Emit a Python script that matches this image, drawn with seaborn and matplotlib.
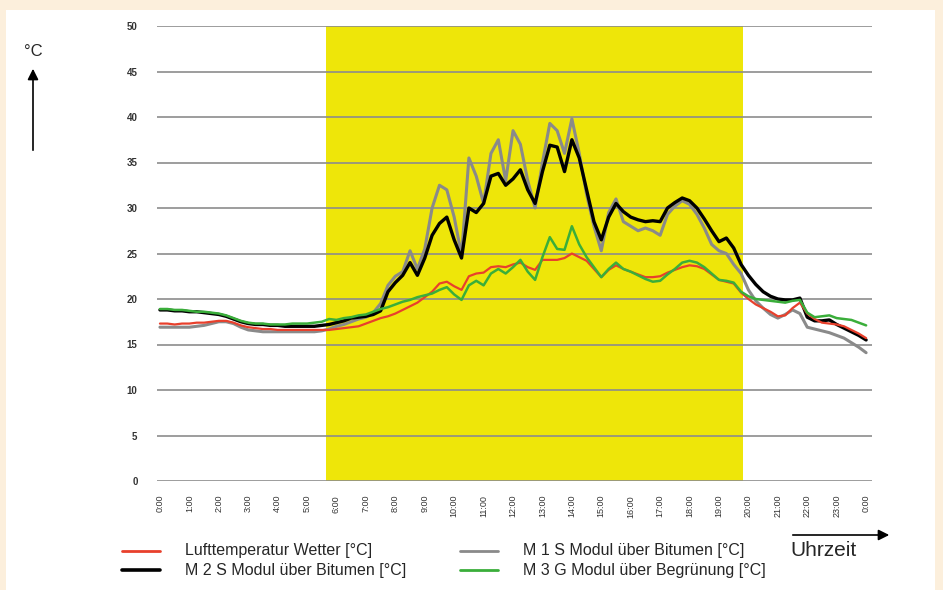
import numpy as np
import pandas as pd
import seaborn as sns
import matplotlib.pyplot as plt
from matplotlib.patches import Rectangle, FancyArrowPatch

# time of day in hours, quarter-hour steps
hours = np.arange(0, 24.01, 0.25)

luft = [17.3, 17.3, 17.2, 17.3, 17.3, 17.4, 17.4, 17.5, 17.6, 17.6, 17.4, 17.1,
        16.9, 16.8, 16.7, 16.7, 16.6, 16.6, 16.6, 16.6, 16.6, 16.6, 16.6, 16.6,
        16.7, 16.8, 16.9, 17.0, 17.3, 17.6, 17.9, 18.1, 18.4, 18.8, 19.2, 19.6,
        20.2, 20.8, 21.7, 21.9, 21.4, 21.0, 22.5, 22.8, 22.9, 23.5, 23.6, 23.5,
        23.8, 24.0, 23.5, 23.2, 24.3, 24.3, 24.3, 24.5, 25.0, 24.6, 24.2, 23.3,
        22.4, 23.2, 23.7, 23.3, 23.0, 22.7, 22.4, 22.4, 22.5, 22.9, 23.2, 23.5,
        23.7, 23.6, 23.3, 22.7, 22.1, 21.9, 21.7, 20.7, 20.0, 19.4, 19.0, 18.6,
        18.1, 18.2, 19.0, 19.6, 18.4, 17.8, 17.4, 17.3, 17.2, 17.0, 16.6, 16.2,
        15.7]

m1_bitumen = [16.9, 16.9, 16.9, 16.9, 16.9, 17.0, 17.1, 17.3, 17.5, 17.5, 17.3, 16.9,
              16.6, 16.5, 16.4, 16.4, 16.4, 16.4, 16.4, 16.4, 16.4, 16.4, 16.5, 16.7,
              17.0, 17.2, 17.5, 17.8, 18.0, 18.5, 19.5, 21.5, 22.5, 23.0, 25.3, 23.3,
              25.5, 30.0, 32.5, 32.0, 29.0, 24.8, 35.5, 33.5, 30.5, 36.0, 37.5, 33.0,
              38.5, 37.0, 33.0, 30.0, 35.0, 39.3, 38.5, 36.0, 39.8, 36.0, 31.5, 28.0,
              25.3, 29.5, 31.0, 28.5, 28.0, 27.5, 27.8, 27.5, 27.0, 29.3, 30.2, 30.8,
              30.4, 29.3, 27.8, 26.0, 25.3, 25.0, 23.8, 22.8, 21.0, 19.8, 19.0, 18.3,
              17.9, 18.3, 18.8, 18.4, 16.9, 16.7, 16.5, 16.3, 16.0, 15.7, 15.2, 14.7,
              14.1]

m2_bitumen = [18.8, 18.8, 18.7, 18.7, 18.6, 18.6, 18.5, 18.4, 18.3, 18.1, 17.8, 17.5,
              17.3, 17.2, 17.2, 17.1, 17.1, 17.0, 17.0, 17.0, 17.0, 17.0, 17.1, 17.2,
              17.4, 17.6, 17.9, 18.0, 18.1, 18.3, 18.7, 20.8, 21.8, 22.6, 24.0, 22.6,
              24.5, 27.0, 28.3, 29.0, 26.5, 24.5, 30.0, 29.5, 30.5, 33.5, 33.8, 32.5,
              33.2, 34.2, 32.0, 30.5, 34.0, 36.9, 36.7, 34.0, 37.5, 35.5, 32.0, 28.5,
              26.5, 29.0, 30.5, 29.6, 29.0, 28.7, 28.5, 28.6, 28.5, 30.0, 30.6, 31.1,
              30.8, 30.0, 28.8, 27.5, 26.3, 26.7, 25.6, 23.8, 22.6, 21.6, 20.8, 20.3,
              20.0, 19.9, 19.9, 20.1, 18.0, 17.6, 17.6, 17.7, 17.2, 16.8, 16.4, 16.0,
              15.5]

m3_begruenung = [18.9, 18.9, 18.8, 18.8, 18.7, 18.6, 18.6, 18.5, 18.4, 18.2, 17.9, 17.6,
                 17.4, 17.3, 17.3, 17.2, 17.2, 17.2, 17.3, 17.3, 17.3, 17.4, 17.5, 17.8,
                 17.7, 17.9, 18.0, 18.2, 18.3, 18.6, 18.9, 19.1, 19.4, 19.7, 19.9, 20.2,
                 20.4, 20.6, 21.0, 21.3, 20.5, 19.9, 21.5, 22.0, 21.5, 22.8, 23.3, 22.8,
                 23.5, 24.3, 23.0, 22.1, 24.6, 26.8, 25.5, 25.4, 28.0, 26.0, 24.6, 23.5,
                 22.4, 23.3, 24.0, 23.3, 23.0, 22.6, 22.2, 21.9, 22.0, 22.7, 23.3, 24.0,
                 24.2, 24.0, 23.5, 22.8, 22.1, 22.0, 21.8, 20.8, 20.3, 20.0, 19.9, 19.8,
                 19.7, 19.6, 19.8, 19.9, 18.5, 18.0, 18.1, 18.2, 17.9, 17.8, 17.7, 17.4,
                 17.1]

series_names = ['Lufttemperatur Wetter [°C]', 'M 1 S Modul über Bitumen [°C]',
                'M 2 S Modul über Bitumen [°C]', 'M 3 G Modul über Begrünung [°C]']
series_colors = ['#e8402c', '#8a8a8a', '#000000', '#3aae3a']
yticks = [0, 5, 10, 15, 20, 25, 30, 35, 40, 45, 50]
xtick_labels = ['%d:00' % (h % 24) for h in range(25)]
daylight = (5.65, 19.8)

df = pd.DataFrame({'Uhrzeit': hours,
                   series_names[0]: luft,
                   series_names[1]: m1_bitumen,
                   series_names[2]: m2_bitumen,
                   series_names[3]: m3_begruenung})
long_df = df.melt(id_vars='Uhrzeit', var_name='Reihe', value_name='Temperatur')

sns.set_style('white')
plt.rcParams['font.family'] = ['Liberation Sans', 'DejaVu Sans']

fig = plt.figure(figsize=(9.43, 5.90), dpi=100)
fig.patch.set_facecolor('#fcefdc')
fig.add_artist(Rectangle((6 / 943, 0.0), 929 / 943, 1 - 10 / 590,
                         transform=fig.transFigure, facecolor='white',
                         edgecolor='none', zorder=-10))

ax = fig.add_axes([157 / 943, 1 - 481 / 590, 715 / 943, 455 / 590])
ax.set_zorder(1)
ax.set_facecolor('none')
ax.axvspan(*daylight, color='#eee609', zorder=0, lw=0)
for y in yticks:
    ax.axhline(y, color='#8c8c8c', lw=1.2, zorder=1)

palette = dict(zip(series_names, series_colors))
widths = {series_names[0]: 1.6, series_names[1]: 2.2,
          series_names[2]: 2.4, series_names[3]: 1.8}
for name in [series_names[1], series_names[2], series_names[0], series_names[3]]:
    sns.lineplot(data=long_df[long_df['Reihe'] == name], x='Uhrzeit', y='Temperatur',
                 color=palette[name], lw=widths[name], ax=ax, legend=False, zorder=3)

ax.set_xlim(-0.1, 24.2)
ax.set_ylim(0, 50)
ax.set_xticks(range(25))
ax.set_xticklabels(xtick_labels, rotation=90, fontsize=6.5, color='#333333')
ax.set_yticks(yticks)
ax.set_yticklabels([str(v) for v in yticks], fontsize=7, color='#333333',
                   fontweight='bold')
ax.tick_params(axis='y', length=0, pad=14)
ax.tick_params(axis='x', length=0, pad=10)
ax.set_xlabel('')
ax.set_ylabel('')
sns.despine(ax=ax, left=True, bottom=True)

# axis labels with arrows
fig.text(33 / 943, 1 - 52 / 590, '°C', fontsize=12, ha='center', va='center')
fig.add_artist(FancyArrowPatch((33 / 943, 1 - 153 / 590), (33 / 943, 1 - 66 / 590),
                               transform=fig.transFigure, arrowstyle='-|>',
                               color='black', lw=1.2, mutation_scale=16))
fig.text(824 / 943, 1 - 551 / 590, 'Uhrzeit', fontsize=15, ha='center', va='center')
fig.add_artist(FancyArrowPatch((790 / 943, 1 - 535 / 590), (892 / 943, 1 - 535 / 590),
                               transform=fig.transFigure, arrowstyle='-|>',
                               color='black', lw=1.2, mutation_scale=16))

# legend drawn below the chart, two columns
legend_pos = [(122, 551), (460, 551), (122, 570), (460, 570)]
for name, (lx, ly) in zip(series_names, legend_pos):
    yf = 1 - ly / 590
    fig.add_artist(plt.Line2D([lx / 943, (lx + 38) / 943], [yf, yf],
                              color=palette[name],
                              lw=2.6 if name == series_names[2] else 2))
    fig.text((lx + 63) / 943, yf, name, fontsize=11.5, ha='left', va='center')

fig.savefig('out.png', dpi=100, facecolor=fig.get_facecolor())
